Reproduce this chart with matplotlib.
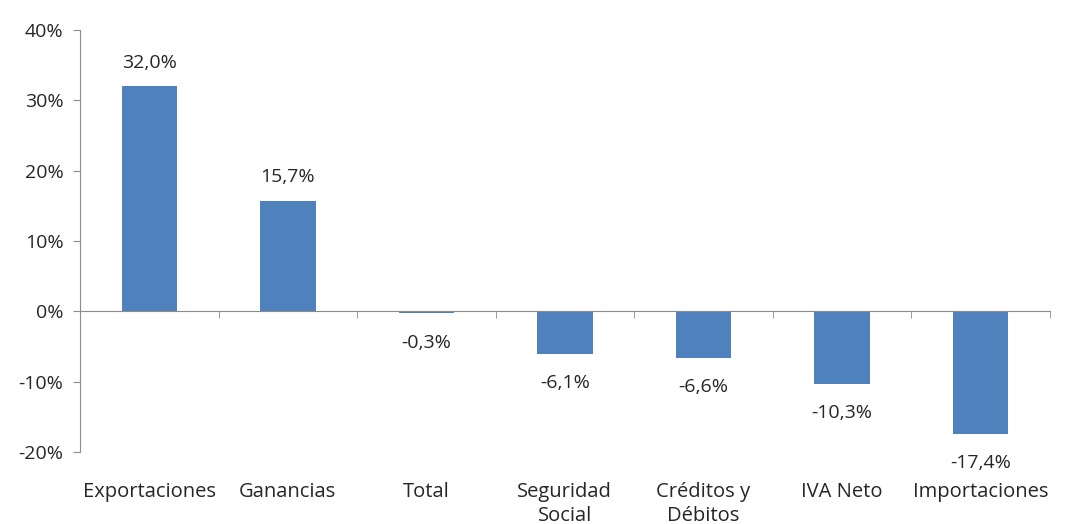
import matplotlib.pyplot as plt
import matplotlib.transforms as mtransforms

categories = ["Exportaciones", "Ganancias", "Total", "Seguridad\nSocial",
              "Créditos y\nDébitos", "IVA Neto", "Importaciones"]
values = [32.0, 15.7, -0.3, -6.1, -6.6, -10.3, -17.4]
y_ticks = [-20, -10, 0, 10, 20, 30, 40]

bar_color = "#4F81BD"
axis_color = "#8C8C8C"
text_color = "#262626"

plt.rcParams['font.family'] = ['Open Sans', 'DejaVu Sans']

fig = plt.figure(figsize=(10.70, 5.24), dpi=100)
ax = fig.add_axes([0.0748, 0.1374, 0.9062, 0.8053])

x = list(range(len(categories)))
ax.bar(x, values, width=0.4, color=bar_color, zorder=2)

ax.set_xlim(-0.5, len(categories) - 0.5)
ax.set_ylim(-20, 40)
ax.set_yticks(y_ticks)
ax.set_yticklabels(["{}%".format(t) for t in y_ticks], fontsize=14, color=text_color)
ax.tick_params(axis='y', length=5, color=axis_color, pad=7)

# category axis drawn on the zero line
ax.spines['bottom'].set_position(('data', 0))
ax.spines['bottom'].set_color(axis_color)
ax.spines['left'].set_color(axis_color)
ax.spines['top'].set_visible(False)
ax.spines['right'].set_visible(False)
ax.set_xticks(x)
ax.set_xticklabels([])
ax.tick_params(axis='x', which='major', length=0)
ax.set_xticks([i - 0.5 for i in range(len(categories) + 1)], minor=True)
ax.tick_params(axis='x', which='minor', length=5, color=axis_color)

# category labels below the plot area
trans = mtransforms.blended_transform_factory(ax.transData, ax.transAxes)
for xi, name in zip(x, categories):
    ax.text(xi, -0.07, name, transform=trans, ha='center', va='top',
            fontsize=14.5, color=text_color, linespacing=1.3)

# data labels
for xi, v in zip(x, values):
    label = "{:.1f}%".format(v).replace('.', ',')
    if v >= 0:
        ax.annotate(label, (xi, v), xytext=(0, 17), textcoords='offset points',
                    ha='center', va='center', fontsize=14, color=text_color)
    else:
        ax.annotate(label, (xi, v), xytext=(0, -21), textcoords='offset points',
                    ha='center', va='center', fontsize=14, color=text_color)

fig.savefig("out.png", dpi=100, facecolor='white')
